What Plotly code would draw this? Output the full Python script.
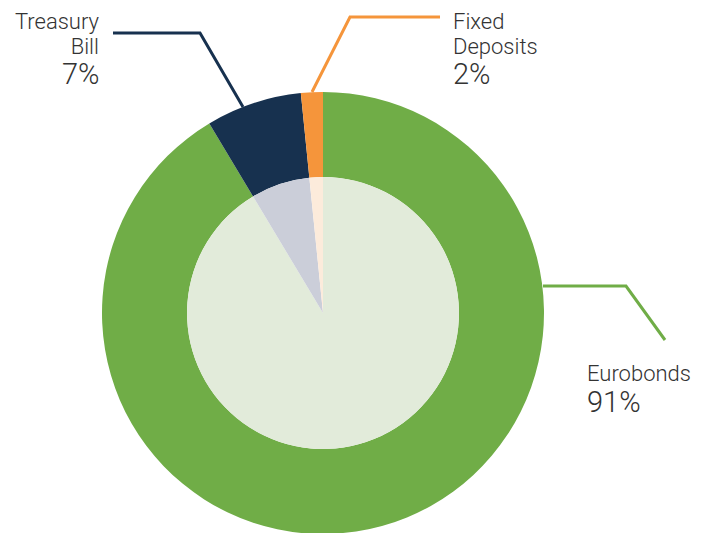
import plotly.graph_objects as go

categories = ["Eurobonds", "Treasury Bill", "Fixed Deposits"]
shares = [91.4, 7.0, 1.6]
pct_labels = ["91%", "7%", "2%"]
outer_colors = ["#70AD47", "#17314F", "#F5953B"]
inner_colors = ["#E2EBDA", "#CBCED9", "#FCEBDB"]

W, H = 708, 533
OFF = 8  # page body margin offset


def px(x, y):
    """page pixel -> paper coords"""
    return (x - OFF) / W, 1 - (y - OFF) / H


cx, cy = 323 - OFF, 313 - OFF  # figure pixel center
R_out, R_in = 221, 136
cy_b = H - cy  # from bottom

fig = go.Figure()
fig.add_trace(go.Pie(
    labels=categories, values=shares, hole=0.615, sort=False,
    direction="clockwise", rotation=0, textinfo="none", hoverinfo="label+percent",
    marker=dict(colors=outer_colors, line=dict(width=0)),
    domain=dict(x=[(cx - R_out) / W, (cx + R_out) / W], y=[(cy_b - R_out) / H, (cy_b + R_out) / H]),
    showlegend=False,
))
fig.add_trace(go.Pie(
    labels=categories, values=shares, sort=False,
    direction="clockwise", rotation=0, textinfo="none", hoverinfo="label+percent",
    marker=dict(colors=inner_colors, line=dict(width=0)),
    domain=dict(x=[(cx - R_in) / W, (cx + R_in) / W], y=[(cy_b - R_in) / H, (cy_b + R_in) / H]),
    showlegend=False,
))

leaders = [
    [(113, 33), (200, 33), (243, 107)],
    [(312, 92), (350, 17), (440, 17)],
    [(543, 286), (626, 286), (665, 340)],
]
shapes = []
for pts, col in zip(leaders, [outer_colors[1], outer_colors[2], outer_colors[0]]):
    p = [px(*q) for q in pts]
    path = "M {} {} L {} {} L {} {}".format(p[0][0], p[0][1], p[1][0], p[1][1], p[2][0], p[2][1])
    shapes.append(dict(type="path", xref="paper", yref="paper", path=path,
                       line=dict(color=col, width=3)))

# base size 19.2 gives a 25px line pitch; spans enlarge glyphs to 22px
font_name = dict(family="Roboto", size=19.2, color="#333333", weight=300)
font_pct = dict(family="Roboto", size=29, color="#333333", weight=300)
name_lines = [["Eurobonds"], ["Treasury", "Bill"], ["Fixed", "Deposits"]]
# x, anchor, y of name block (None = top of figure), y-centre of pct
label_pos = [
    (586, "left", 373, 401.5),
    (101, "right", None, 74),
    (452, "left", None, 74),
]
annotations = []
for lines, pct, (lx, anc, ny, py) in zip(name_lines, pct_labels, label_pos):
    text = "<br>".join("<span style='font-size:22px'>{}</span>".format(t) for t in lines)
    if ny is None:
        x, _ = px(lx, 0)
        y, ya = 1.0, "top"
    else:
        x, y = px(lx, ny)
        ya = "middle"
    annotations.append(dict(text=text, x=x, y=y, xref="paper", yref="paper",
                            xanchor=anc, yanchor=ya, align=anc, showarrow=False,
                            borderpad=0, font=font_name))
    x, y = px(lx, py)
    annotations.append(dict(text=pct, x=x, y=y, xref="paper", yref="paper",
                            xanchor=anc, yanchor="middle", showarrow=False,
                            borderpad=0, font=font_pct))

fig.update_layout(
    width=W, height=H, margin=dict(l=0, r=0, t=0, b=0),
    paper_bgcolor="white", plot_bgcolor="white",
    shapes=shapes, annotations=annotations,
)
fig.write_html("out.html")
